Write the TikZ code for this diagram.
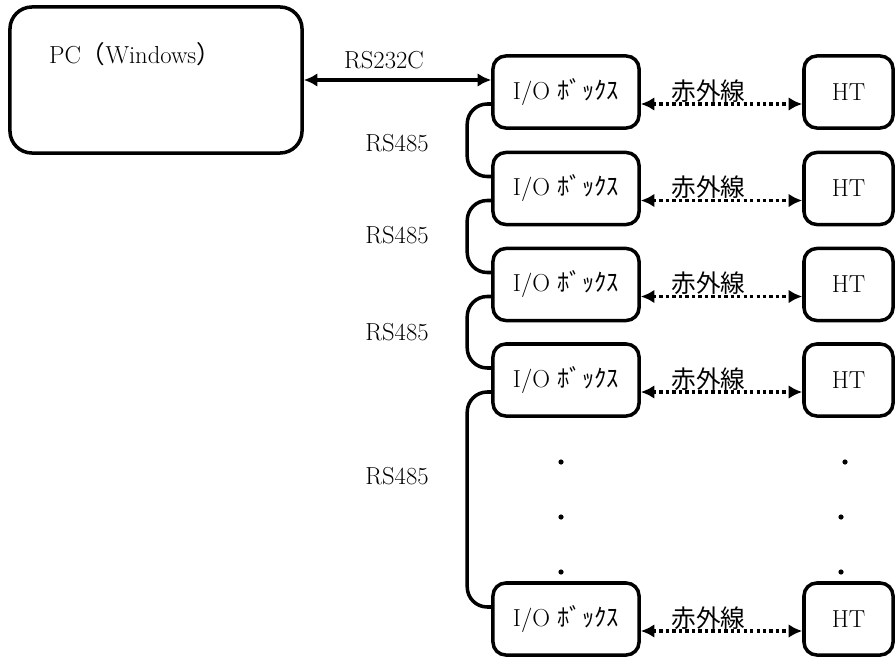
\documentclass[tikz,border=0pt]{standalone}
\usepackage{fontspec}
\newfontfamily\jpfont{Noto Sans CJK JP}
\usetikzlibrary{arrows.meta, positioning}
\tikzset{
    pcbox/.style={rectangle, draw, rounded corners=0.55cm, line width=2.5pt, minimum width=7.3cm, minimum height=3.65cm},
    iobox/.style={rectangle, draw, rounded corners=0.32cm, line width=2.5pt, minimum width=3.65cm, minimum height=1.8cm, font=\fontsize{17.5}{21}\selectfont},
    htbox/.style={iobox, minimum width=2.225cm},
    lbl/.style={font=\fontsize{17.5}{21}\selectfont, inner sep=0pt},
    vdot/.style={circle, fill=black, inner sep=0pt, minimum size=1.3mm},
    serial/.style={draw, line width=2.5pt, {Latex[length=3.4mm,width=3.4mm]}-{Latex[length=3.4mm,width=3.4mm]}},
    infrared/.style={serial, dash pattern=on 2.4pt off 2.2pt},
    linkline/.style={draw, line width=2.5pt, rounded corners=0.5cm},
}

\begin{document}
\begin{tikzpicture}[x=0.025cm, y=-0.025cm]
    \useasboundingbox (0,0) rectangle (895,657);

    % PC side
    \node[pcbox] (pc) at (156,80) {};
    \node[lbl] (pclabel) at (135,54) {PC{\jpfont（}Windows{\jpfont）}};

    % boxes and infrared links
    \foreach \i/\y in {1/92, 2/188.5, 3/284.5, 4/380, 5/619} {
        \node[iobox] (io\i) at (566,\y) {I/O {\jpfont ﾎﾞｯｸｽ}};
        \node[htbox] (ht\i) at (848.5,\y) {HT};
        \draw[infrared] ([yshift=-0.3cm]io\i.east) -- node[lbl, pos=0.42, above=0pt] (ir\i) {\jpfont 赤外線} ([yshift=-0.3cm]ht\i.west);
    }

    % RS232C
    \draw[serial] (pc.east) -- (pc.east -| io1.west);
    \node[lbl] (rs232) at (384,60) {RS232C};

    % RS485 chain
    \draw[linkline] ([yshift=-0.3cm]io1.west) -- ++(-0.6cm,0) |- ([yshift=0.3cm]io2.west);
    \draw[linkline] ([yshift=-0.3cm]io2.west) -- ++(-0.6cm,0) |- ([yshift=0.3cm]io3.west);
    \draw[linkline] ([yshift=-0.3cm]io3.west) -- ++(-0.6cm,0) |- ([yshift=0.3cm]io4.west);
    \draw[linkline] ([yshift=-0.3cm]io4.west) -- ++(-0.6cm,0) |- ([yshift=0.3cm]io5.west);
    \node[lbl] (rs485a) at (397,143) {RS485};
    \node[lbl] (rs485b) at (397,235) {RS485};
    \node[lbl] (rs485c) at (397,332) {RS485};
    \node[lbl] (rs485d) at (397,476) {RS485};

    % omitted boxes
    \node[vdot] (iodot1) at (561,462) {};
    \node[vdot] (iodot2) at (561,517) {};
    \node[vdot] (iodot3) at (561,572) {};
    \node[vdot] (htdot1) at (845,462) {};
    \node[vdot] (htdot2) at (841,517) {};
    \node[vdot] (htdot3) at (841,572) {};
\end{tikzpicture}
\end{document}
